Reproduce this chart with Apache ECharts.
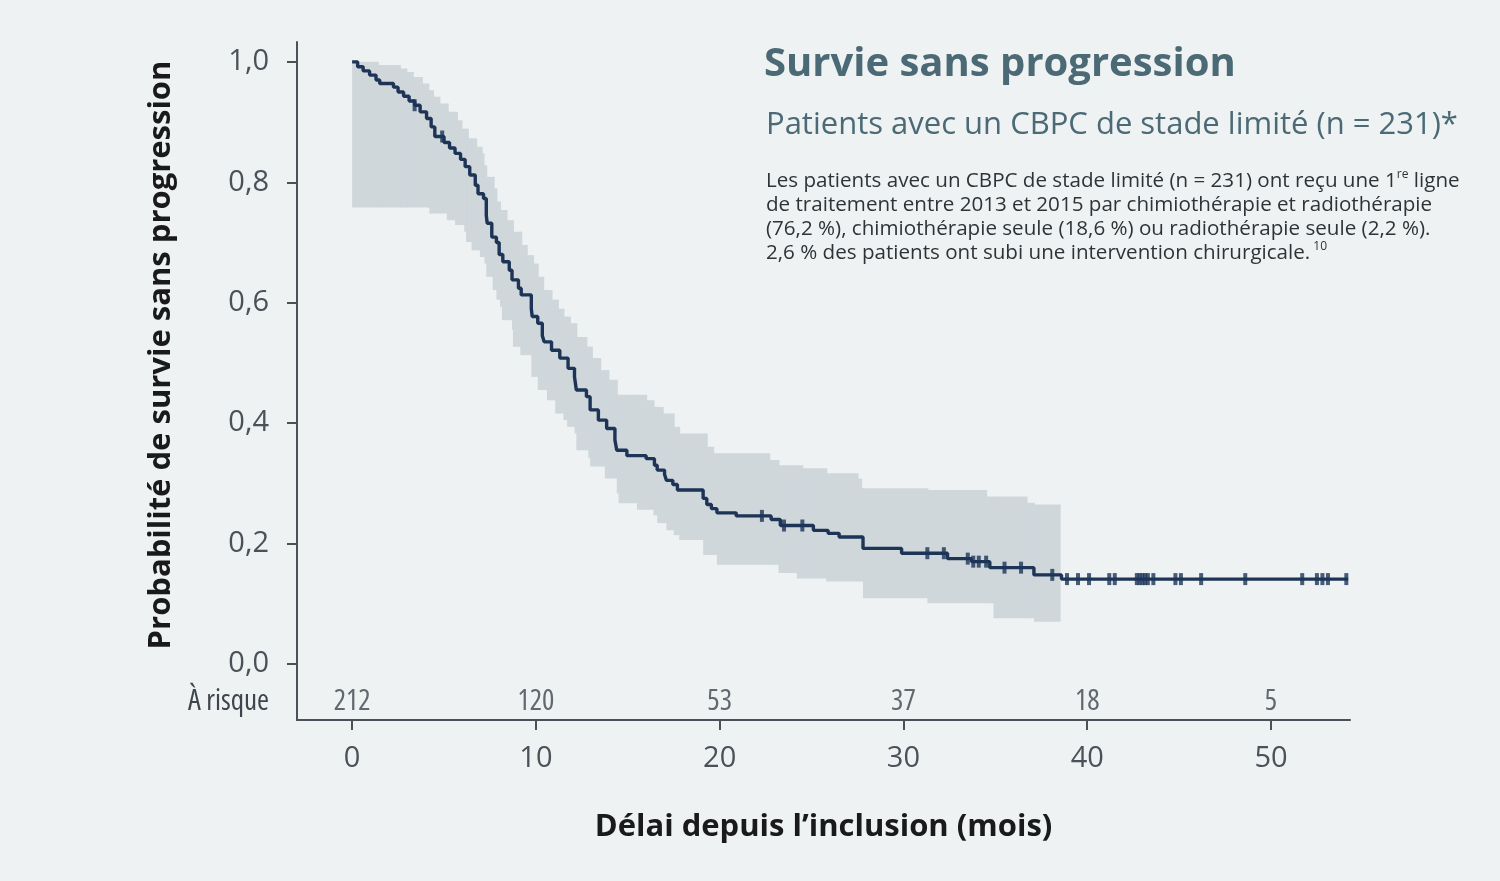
<!DOCTYPE html>
<html>
<head>
<meta charset="utf-8">
<title>Survie sans progression</title>
<script src="https://cdn.jsdelivr.net/npm/echarts@6/dist/echarts.min.js"></script>
<style>
  html, body { margin: 0; padding: 0; background: #eef2f3; }
  #chart { width: 1500px; height: 881px; }
</style>
</head>
<body>
<div id="chart"></div>
<script>
// Courbe de Kaplan-Meier : [mois, probabilité] (valeur tenue jusqu'au point suivant)
const survie = [
  [0, 1.0], [0.3, 0.992], [0.6, 0.985], [0.95, 0.978], [1.3, 0.970], [1.5, 0.964],
  [2.25, 0.958], [2.5, 0.950], [2.8, 0.943], [3.1, 0.935], [3.4, 0.928], [3.7, 0.917],
  [4.05, 0.906], [4.3, 0.892], [4.5, 0.876], [5.0, 0.866], [5.3, 0.857], [5.6, 0.848],
  [5.9, 0.838], [6.15, 0.826], [6.4, 0.812], [6.7, 0.795], [6.85, 0.781], [7.15, 0.773],
  [7.3, 0.745], [7.35, 0.732], [7.6, 0.709], [7.85, 0.700], [8.0, 0.680], [8.2, 0.668],
  [8.55, 0.654], [8.7, 0.638], [9.05, 0.624], [9.2, 0.613], [9.75, 0.590], [9.8, 0.577],
  [10.1, 0.566], [10.35, 0.545], [10.45, 0.535], [10.85, 0.521], [11.3, 0.508], [11.75, 0.491],
  [12.1, 0.477], [12.2, 0.455], [12.75, 0.444], [12.95, 0.422], [13.4, 0.405], [13.85, 0.391],
  [14.3, 0.372], [14.4, 0.355], [14.95, 0.346], [16.0, 0.341], [16.45, 0.330], [16.6, 0.322],
  [17.0, 0.315], [17.1, 0.305], [17.45, 0.298], [17.7, 0.289], [19.1, 0.275], [19.3, 0.265],
  [19.55, 0.258], [19.85, 0.251], [20.9, 0.246], [22.8, 0.240], [23.3, 0.230], [25.1, 0.222],
  [25.9, 0.217], [26.5, 0.211], [27.8, 0.192], [29.9, 0.184], [32.4, 0.175], [33.7, 0.170],
  [34.7, 0.160], [37.1, 0.148], [38.6, 0.141], [54.2, 0.141]
];

// Intervalle de confiance : bornes haute et basse
const borneHaute = [
  [0, 1.0], [1.4, 0.995], [2.6, 0.989], [2.95, 0.983], [3.3, 0.975], [3.8, 0.964],
  [4.15, 0.953], [4.4, 0.942], [4.75, 0.931], [5.2, 0.917], [5.7, 0.903], [5.95, 0.889],
  [6.3, 0.873], [6.75, 0.859], [7.05, 0.848], [7.15, 0.828], [7.3, 0.809], [7.7, 0.790],
  [7.85, 0.768], [8.05, 0.754], [8.4, 0.737], [8.75, 0.718], [9.2, 0.696], [9.5, 0.679],
  [9.85, 0.665], [10.1, 0.643], [10.4, 0.621], [10.85, 0.605], [11.2, 0.590], [11.5, 0.577],
  [11.85, 0.566], [12.2, 0.543], [12.75, 0.527], [13.05, 0.508], [13.5, 0.488], [13.95, 0.472],
  [14.4, 0.447], [16.0, 0.438], [16.4, 0.427], [16.9, 0.416], [17.5, 0.394], [17.8, 0.383],
  [19.3, 0.361], [19.65, 0.350], [22.7, 0.339], [23.2, 0.330], [24.5, 0.325], [25.8, 0.317],
  [27.5, 0.308], [27.7, 0.292], [31.3, 0.289], [34.5, 0.278], [36.7, 0.268], [37.1, 0.265],
  [38.5, 0.265]
];
const borneBasse = [
  [0, 0.758], [4.2, 0.748], [5.15, 0.737], [5.6, 0.729], [6.1, 0.718], [6.2, 0.701],
  [6.5, 0.687], [6.95, 0.676], [7.2, 0.665], [7.3, 0.643], [7.65, 0.621], [7.85, 0.605],
  [8.05, 0.593], [8.15, 0.571], [8.7, 0.555], [8.75, 0.527], [9.15, 0.513], [9.75, 0.477],
  [10.1, 0.455], [10.6, 0.438], [11.05, 0.416], [11.5, 0.405], [11.7, 0.394], [12.1, 0.383],
  [12.2, 0.355], [12.85, 0.342], [12.95, 0.328], [13.75, 0.308], [14.4, 0.283], [14.5, 0.267],
  [15.5, 0.256], [16.4, 0.247], [16.6, 0.234], [17.1, 0.222], [17.5, 0.214], [17.8, 0.206],
  [19.1, 0.181], [19.85, 0.165], [23.2, 0.151], [24.2, 0.142], [25.8, 0.137], [27.8, 0.109],
  [31.3, 0.101], [34.9, 0.076], [37.1, 0.070], [38.5, 0.070]
];

// Données censurées (mois)
const censures = [
  3.4, 4.9, 22.3, 23.5, 24.5, 31.3, 32.2, 33.5, 33.8, 34.1, 34.5, 35.5, 36.4, 38.1,
  38.9, 39.5, 40.1, 41.2, 41.5, 42.7, 42.85, 43.0, 43.15, 43.3, 43.6, 44.8, 45.1,
  46.2, 48.6, 51.7, 52.5, 52.8, 53.1, 54.1
];

// Nombre de patients à risque
const moisRisque = [0, 10, 20, 30, 40, 50];
const aRisque = [212, 120, 53, 37, 18, 5];

const ticksX = [0, 10, 20, 30, 40, 50];
const ticksY = [0, 0.2, 0.4, 0.6, 0.8, 1.0];
const yRisque = -0.063;

// valeur d'une fonction en escalier au temps t
function valeurA(serie, t) {
  let v = serie[0][1];
  for (let i = 0; i < serie.length; i++) {
    if (serie[i][0] <= t + 1e-9) v = serie[i][1];
  }
  return v;
}

// bande de confiance : un segment [t0, t1, bas, haut] par palier
let instants = borneHaute.map(d => d[0]).concat(borneBasse.map(d => d[0]));
instants = Array.from(new Set(instants)).sort((a, b) => a - b);
const bande = [];
for (let i = 0; i < instants.length - 1; i++) {
  let t = instants[i];
  bande.push([t, instants[i + 1], valeurA(borneBasse, t), valeurA(borneHaute, t)]);
}

const pointsCensure = censures.map(t => [t, valeurA(survie, t)]);
const pointsRisque = moisRisque.map((t, i) => [t, yRisque, aRisque[i]]);

const navy = '#1d3457';
const gris = '#4b5158';
const couleurBande = '#cfd7db';

let $e = echarts.init(document.getElementById('chart'));
let option = {
  backgroundColor: '#eef2f3',
  animation: false,
  grid: { left: 297, right: 150, top: 42, bottom: 161 },
  title: [{
    text: 'Survie sans progression',
    left: 759, top: 40,
    textStyle: { fontFamily: 'Open Sans', fontWeight: 'bold', fontSize: 40, color: '#4b6a75' }
  }, {
    text: 'Patients avec un CBPC de stade limité (n = 231)*',
    left: 761, top: 105,
    textStyle: { fontFamily: 'Open Sans', fontWeight: 'normal', fontSize: 31, color: '#4b6a75' }
  }, {
    text: 'Les patients avec un CBPC de stade limité (n = 231) ont reçu une 1{sup|re} ligne\n' +
          'de traitement entre 2013 et 2015 par chimiothérapie et radiothérapie\n' +
          '(76,2 %), chimiothérapie seule (18,6 %) ou radiothérapie seule (2,2 %).\n' +
          '2,6 % des patients ont subi une intervention chirurgicale.{sup| 10}',
    left: 761, top: 164,
    textStyle: {
      fontFamily: 'Open Sans', fontWeight: 'normal', fontSize: 20.6, lineHeight: 24, color: '#2e3338',
      rich: {
        sup: { fontFamily: 'Open Sans', fontSize: 12, lineHeight: 24, verticalAlign: 'top', color: '#2e3338', padding: [0, 0, 8, 0] }
      }
    }
  }],
  xAxis: {
    type: 'value',
    min: -3, max: 54.3,
    name: 'Délai depuis l\u2019inclusion (mois)',
    nameLocation: 'middle',
    nameGap: 92,
    nameTextStyle: { fontFamily: 'Open Sans', fontWeight: 'bold', fontSize: 31, color: '#1a1a1a' },
    splitLine: { show: false },
    axisLine: { onZero: false, lineStyle: { color: gris, width: 2 } },
    axisTick: { customValues: ticksX, length: 10, lineStyle: { color: gris, width: 2 } },
    axisLabel: { customValues: ticksX, margin: 24, fontFamily: 'Open Sans', fontSize: 29, color: gris }
  },
  yAxis: {
    type: 'value',
    min: -0.093, max: 1.033,
    name: 'Probabilité de survie sans progression',
    nameLocation: 'middle',
    nameRotate: 90,
    nameGap: 102,
    nameTextStyle: {
      fontFamily: 'Open Sans', fontWeight: 'bold', fontSize: 31, color: '#1a1a1a',
      padding: [0, 0, 0, 52]
    },
    splitLine: { show: false },
    axisLine: { onZero: false, lineStyle: { color: gris, width: 2 } },
    axisTick: { customValues: ticksY, length: 10, lineStyle: { color: gris, width: 2 } },
    axisLabel: {
      customValues: [yRisque].concat(ticksY),
      margin: 28,
      fontFamily: 'Open Sans', fontSize: 29, color: gris,
      formatter: function (v) {
        if (v < 0) return '{r|À risque}';
        return v.toFixed(1).replace('.', ',');
      },
      rich: { r: { fontFamily: 'Open Sans', fontWeight: 'condensed', fontSize: 29, color: '#3f454c' } }
    }
  },
  series: [{
    type: 'custom', name: 'IC 95 %',
    data: bande,
    encode: { x: [0, 1], y: [2, 3] },
    silent: true, z: 1,
    renderItem: function (params, api) {
      let p0 = api.coord([api.value(0), api.value(3)]);
      let p1 = api.coord([api.value(1), api.value(2)]);
      return {
        type: 'rect',
        shape: { x: p0[0], y: p0[1], width: p1[0] - p0[0] + 1, height: p1[1] - p0[1] },
        style: { fill: couleurBande }
      };
    }
  }, {
    type: 'line', name: 'Survie sans progression', step: 'end',
    data: survie, symbol: 'none',
    lineStyle: { color: navy, width: 3.4 }, z: 3
  }, {
    type: 'scatter', name: 'censures',
    data: pointsCensure, symbol: 'rect', symbolSize: [4, 12],
    itemStyle: { color: navy }, z: 4
  }, {
    type: 'scatter', name: 'à risque',
    data: pointsRisque, symbolSize: 1,
    itemStyle: { color: 'rgba(0,0,0,0)' },
    label: {
      show: true, position: 'inside',
      formatter: p => String(p.value[2]),
      fontFamily: 'Open Sans', fontWeight: 'condensed', fontSize: 29, color: '#3f454c'
    }, z: 5
  }]
};
$e.setOption(option);
window.onresize = function () { $e.resize(); };
</script>
</body>
</html>
